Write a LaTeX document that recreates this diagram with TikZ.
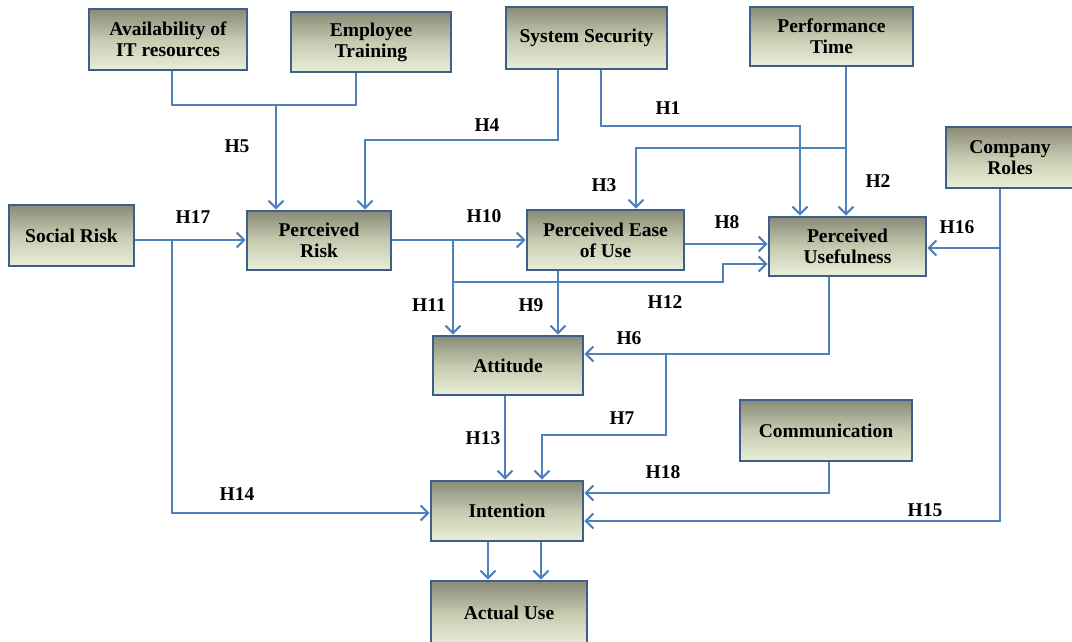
\documentclass[tikz,border=0pt]{standalone}
\usepackage{fontspec}
\setmainfont{Liberation Serif}
\usetikzlibrary{arrows.meta}
\definecolor{lineblue}{RGB}{79,129,189}
\definecolor{boxedge}{RGB}{60,95,140}
\definecolor{shadetop}{RGB}{138,138,118}
\definecolor{shademid}{RGB}{198,202,176}
\definecolor{shadebot}{RGB}{234,239,216}
\begin{document}
\begin{tikzpicture}[x=1pt,y=-1pt,
  factor/.style={draw=boxedge, line width=2.6pt, top color=shadetop,
    bottom color=shadebot, middle color=shademid, align=center,
    font=\fontsize{19.5}{21}\selectfont\bfseries, inner sep=2pt},
  ln/.style={draw=lineblue, line width=2.1pt},
  arr/.style={ln, -{Straight Barb[length=7.5pt,width=15pt,line width=2.1pt]}},
  hyp/.style={font=\fontsize{19.5}{21}\selectfont\bfseries, inner sep=0pt}]
\useasboundingbox (0,0) rectangle (1072,641);

% factor boxes
\node[factor, minimum width=158, minimum height=61] (avail)  at (168,39.5)  {Availability of\\IT resources};
\node[factor, minimum width=160, minimum height=60] (train)  at (371,42)    {Employee\\Training};
\node[factor, minimum width=161, minimum height=62] (sec)    at (586.5,38)  {System Security};
\node[factor, minimum width=163, minimum height=59] (perf)   at (831.5,36.5){Performance\\Time};
\node[factor, minimum width=128, minimum height=61] (roles)  at (1010,157.5){Company\\Roles};
\node[factor, minimum width=125, minimum height=61] (social) at (71.5,235.5) {Social Risk};
\node[factor, minimum width=144, minimum height=59] (prisk)  at (319,240.5) {Perceived\\Risk};
\node[factor, minimum width=157, minimum height=60] (peou)   at (605.5,240) {Perceived Ease\\of Use};
\node[factor, minimum width=157, minimum height=59] (pu)     at (847.5,246.5){Perceived\\Usefulness};
\node[factor, minimum width=150, minimum height=59] (att)    at (508,365.5) {Attitude};
\node[factor, minimum width=172, minimum height=61] (comm)   at (826,430.5) {Communication};
\node[factor, minimum width=152, minimum height=60] (intent) at (507,511)   {Intention};
\node[factor, minimum width=156, minimum height=64] (actual) at (509,613)   {Actual Use};

% junction points
\coordinate (j5) at (276,105);
\coordinate (j17) at (172,240);
\coordinate (j10) at (453,240);
\coordinate (j2) at (846,148);
\coordinate (j6) at (666,354);
\coordinate (j16) at (1000,248);

% H5
\draw[ln] (avail.south -| 172,0) |- (j5) -| (train.south -| 356,0);
\draw[arr] (j5) -- (prisk.north -| j5);
% H4
\draw[arr] (sec.south -| 558,0) -- (558,140) -| (prisk.north -| 365,0);
% H1
\draw[arr] (sec.south -| 601,0) -- (601,126) -| (pu.north -| 800,0);
% H2 and H3
\draw[arr] (perf.south -| j2) -- (pu.north -| j2);
\draw[arr] (j2) -| (peou.north -| 636,0);
% H17 and H14
\draw[arr] (social.east |- j17) -- (prisk.west |- j17);
\draw[arr] (j17) |- (intent.west |- 0,513);
% H10, H11, H12
\draw[arr] (prisk.east |- j10) -- (peou.west |- j10);
\draw[arr] (j10) -- (att.north -| j10);
\draw[arr] (453,282) -- (723,282) |- (pu.west |- 0,264);
% H8
\draw[arr] (peou.east |- 0,244) -- (pu.west |- 0,244);
% H9
\draw[arr] (peou.south -| 558,0) -- (att.north -| 558,0);
% H6 and H7
\draw[arr] (pu.south -| 829,0) |- (att.east |- j6);
\draw[arr] (j6) -- (666,435) -| (intent.north -| 542,0);
% H13
\draw[arr] (att.south -| 505,0) -- (intent.north -| 505,0);
% H18
\draw[arr] (comm.south -| 829,0) |- (intent.east |- 0,493);
% H15 and H16
\draw[arr] (roles.south -| j16) |- (intent.east |- 0,521);
\draw[arr] (j16) -- (pu.east |- j16);
% intention to actual use
\draw[arr] (intent.south -| 488,0) -- (actual.north -| 488,0);
\draw[arr] (intent.south -| 541,0) -- (actual.north -| 541,0);

% hypothesis labels
\node[hyp] (h1)  at (668,108) {H1};
\node[hyp] (h2)  at (878,181) {H2};
\node[hyp] (h3)  at (604,185) {H3};
\node[hyp] (h4)  at (487,125) {H4};
\node[hyp] (h5)  at (237,146) {H5};
\node[hyp] (h6)  at (629,338) {H6};
\node[hyp] (h7)  at (622,418) {H7};
\node[hyp] (h8)  at (727,222) {H8};
\node[hyp] (h9)  at (531,305) {H9};
\node[hyp] (h10) at (484,216) {H10};
\node[hyp] (h11) at (429,305) {H11};
\node[hyp] (h12) at (665,302) {H12};
\node[hyp] (h13) at (483,438) {H13};
\node[hyp] (h14) at (237,494) {H14};
\node[hyp] (h15) at (925,510) {H15};
\node[hyp] (h16) at (957,227) {H16};
\node[hyp] (h17) at (193,217) {H17};
\node[hyp] (h18) at (663,472) {H18};
\end{tikzpicture}
\end{document}
